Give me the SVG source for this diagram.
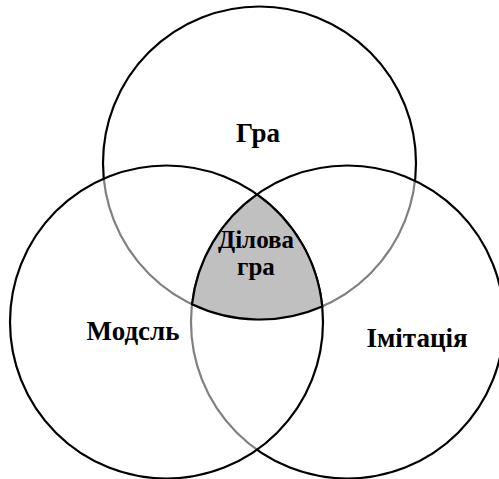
<svg xmlns="http://www.w3.org/2000/svg" width="499" height="479" viewBox="0 0 499 479">
<style>
.c{fill:#fff;fill-opacity:0.5;stroke:#000;stroke-width:2.2}
</style>
<rect width="499" height="479" fill="#fff"/>
<g id="gra">
<circle class="c" cx="259.5" cy="163" r="156.5"/>
</g>
<g id="imitatsiia">
<circle class="c" cx="347.5" cy="322" r="156.5"/>
</g>
<g id="model">
<circle class="c" cx="166.5" cy="322" r="156.5"/>
</g>
<g id="dilova-gra">
<path d="M257,194.3 A156.5,156.5 0 0 1 322.2,306.4 A156.5,156.5 0 0 1 192,304.2 A156.5,156.5 0 0 1 257,194.3 Z" fill="#c0c0c0" stroke="#000" stroke-width="2.2"/>
</g>
<g id="labels" text-anchor="middle" font-weight="bold">
<text x="258" y="142" font-family="Liberation Serif" font-weight="bold" font-size="27">Гра</text>
<text x="133" y="340" font-family="Liberation Serif" font-weight="bold" font-size="27">Модсль</text>
<text x="417" y="347" font-family="Liberation Serif" font-weight="bold" font-size="27">Імітація</text>
<text x="256" y="248" font-family="Liberation Serif" font-weight="bold" font-size="25">Ділова</text>
<text x="256" y="275" font-family="Liberation Serif" font-weight="bold" font-size="25">гра</text>
</g>
</svg>
